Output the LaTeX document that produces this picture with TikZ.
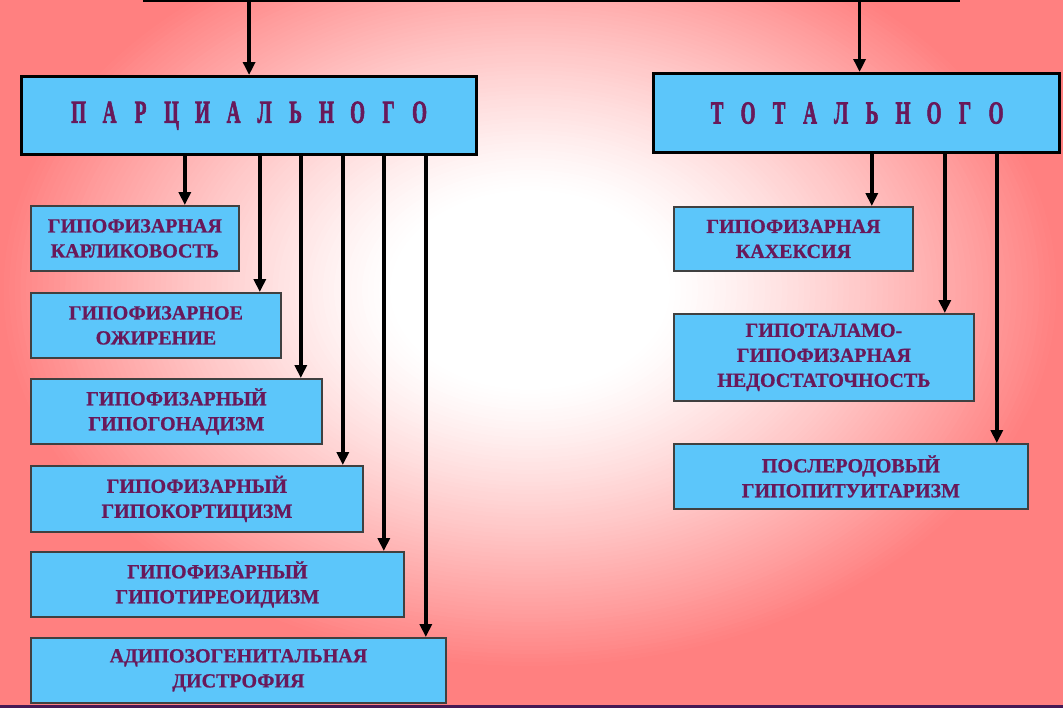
\documentclass[tikz,border=0pt]{standalone}
\usepackage{fontspec}
\setmainfont{Liberation Serif}
\newfontfamily\titlefont[FakeBold=2.5]{Liberation Serif}
\newfontfamily\boxfont[FakeBold=0.8]{Liberation Serif}
\usepackage{graphicx}
\usetikzlibrary{arrows.meta}
\definecolor{boxblue}{RGB}{92,198,250}
\definecolor{txt}{RGB}{105,25,90}
\definecolor{bgred}{RGB}{255,128,128}
\definecolor{bottomline}{RGB}{70,25,85}
\newcommand{\tl}[1]{\makebox[31pt]{\scalebox{0.6}[1]{#1}}}
\begin{document}
\begin{tikzpicture}[x=1pt,y=-1pt,
  subbox/.style={draw=black!75, line width=1.8pt, fill=boxblue, text=txt,
    font=\boxfont\bfseries\fontsize{20}{25}\selectfont, align=center, anchor=north west, inner sep=0pt},
  headbox/.style={draw=black, line width=3.2pt, fill=boxblue, text=txt,
    font=\titlefont\bfseries\fontsize{32}{32}\selectfont, anchor=north west, inner sep=0pt},
  arr/.style={line width=3.4pt, -{Triangle[length=13pt,width=12pt]}}]
\useasboundingbox (0,0) rectangle (1063,707);
\clip (0,0) rectangle (1063,707);
% background gradient
\fill[bgred] (0,0) rectangle (1063,707);
\foreach \i in {100,99,...,1} {
  \pgfmathsetmacro\t{\i/100}
  \pgfmathsetmacro\p{100*pow(max(0.0001,min(1,(\t-0.25)/0.7)),1.2)}
  \fill[bgred!\p!white] (530,290) ellipse [x radius=560*\t, y radius=400*\t];
}
% top box (cut off)
\node[headbox, anchor=south west, minimum width=814pt, minimum height=40pt] (top) at (143,1.5) {};
% head boxes
\node[headbox, minimum width=455pt, minimum height=78pt] (par) at (20,75)
  {\tl{П}\tl{А}\tl{Р}\tl{Ц}\tl{И}\tl{А}\tl{Л}\tl{Ь}\tl{Н}\tl{О}\tl{Г}\tl{О}};
\node[headbox, minimum width=406pt, minimum height=79pt] (tot) at (652,72)
  {\tl{Т}\tl{О}\tl{Т}\tl{А}\tl{Л}\tl{Ь}\tl{Н}\tl{О}\tl{Г}\tl{О}};
% left boxes
\node[subbox, minimum width=208pt, minimum height=65pt] (b1) at (30,205) {ГИПОФИЗАРНАЯ\\КАРЛИКОВОСТЬ};
\node[subbox, minimum width=250pt, minimum height=65pt] (b2) at (30,292) {ГИПОФИЗАРНОЕ\\ОЖИРЕНИЕ};
\node[subbox, minimum width=291pt, minimum height=65pt] (b3) at (30,378) {ГИПОФИЗАРНЫЙ\\ГИПОГОНАДИЗМ};
\node[subbox, minimum width=332pt, minimum height=66pt] (b4) at (30,465) {ГИПОФИЗАРНЫЙ\\ГИПОКОРТИЦИЗМ};
\node[subbox, minimum width=373pt, minimum height=65pt] (b5) at (30,551) {ГИПОФИЗАРНЫЙ\\ГИПОТИРЕОИДИЗМ};
\node[subbox, minimum width=415pt, minimum height=65pt] (b6) at (30,637) {АДИПОЗОГЕНИТАЛЬНАЯ\\ДИСТРОФИЯ};
% right boxes
\node[subbox, minimum width=239pt, minimum height=64pt] (r1) at (673,206) {ГИПОФИЗАРНАЯ\\КАХЕКСИЯ};
\node[subbox, minimum width=300pt, minimum height=87pt] (r2) at (673,313) {ГИПОТАЛАМО-\\ГИПОФИЗАРНАЯ\\НЕДОСТАТОЧНОСТЬ};
\node[subbox, minimum width=354pt, minimum height=65pt] (r3) at (673,443) {ПОСЛЕРОДОВЫЙ\\ГИПОПИТУИТАРИЗМ};
% arrows from top
\draw[arr] (top.south -| par.north) -- (par.north);
\draw[arr] ([xshift=3pt]top.south -| tot.north) -- ([xshift=3pt]tot.north);
% arrows left
\draw[arr] ([xshift=-55pt]b1.north east |- par.south) -- ([xshift=-55pt]b1.north east);
\draw[arr] ([xshift=-22pt]b2.north east |- par.south) -- ([xshift=-22pt]b2.north east);
\draw[arr] ([xshift=-22pt]b3.north east |- par.south) -- ([xshift=-22pt]b3.north east);
\draw[arr] ([xshift=-21pt]b4.north east |- par.south) -- ([xshift=-21pt]b4.north east);
\draw[arr] ([xshift=-21pt]b5.north east |- par.south) -- ([xshift=-21pt]b5.north east);
\draw[arr] ([xshift=-21pt]b6.north east |- par.south) -- ([xshift=-21pt]b6.north east);
% arrows right
\draw[arr] ([xshift=-42pt]r1.north east |- tot.south) -- ([xshift=-42pt]r1.north east);
\draw[arr] ([xshift=-30pt]r2.north east |- tot.south) -- ([xshift=-30pt]r2.north east);
\draw[arr] ([xshift=-32pt]r3.north east |- tot.south) -- ([xshift=-32pt]r3.north east);
% bottom edge line
\draw[line width=3pt, bottomline] (0,706) -- (1063,706);
\end{tikzpicture}
\end{document}
